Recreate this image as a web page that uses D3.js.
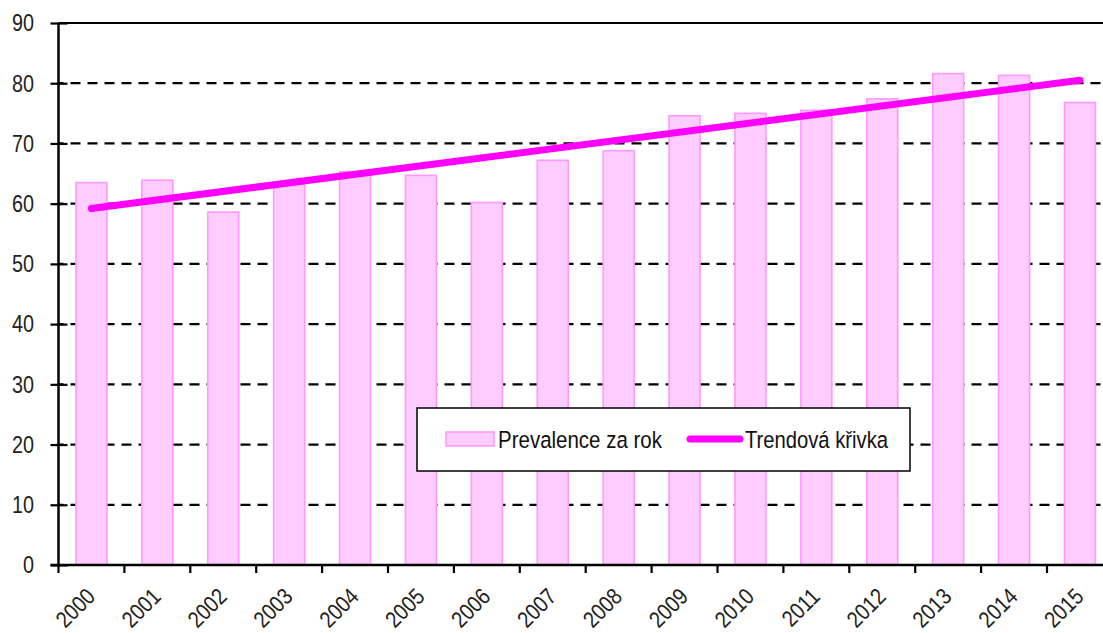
<!DOCTYPE html>
<html>
<head>
<meta charset="utf-8">
<script src="https://cdn.jsdelivr.net/npm/d3@7"></script>
<style>
    body { margin: 0; background: #fff; }
    svg { display: block; font-family: "Liberation Sans", Arial, sans-serif; }
</style>
</head>
<body>
<div id="chart"></div>
<script>
// data
const years = ["2000", "2001", "2002", "2003", "2004", "2005", "2006", "2007",
    "2008", "2009", "2010", "2011", "2012", "2013", "2014", "2015"];
const prevalence = [63.5, 63.9, 58.6, 63.3, 65.3, 64.7, 60.2, 67.2,
    68.8, 74.6, 75.0, 75.5, 77.4, 81.6, 81.3, 76.8];
// trend line end points (first and last year)
const trendYears = ["2000", "2015"];
const trendValues = [59.2, 80.5];
const yTicks = [0, 10, 20, 30, 40, 50, 60, 70, 80, 90];
const legendLabels = ["Prevalence za rok", "Trendová křivka"];

const WIDTH = 1103;
const HEIGHT = 633;
const margin = {top: 23, left: 58.5, bottom: 68};
// no narrow font installed, so squeeze the regular one
const NARROW = 0.86;

const svg = d3.select("#chart").append("svg")
    .attr("width", WIDTH)
    .attr("height", HEIGHT);

const x = d3.scaleBand()
    .domain(years)
    .range([margin.left, margin.left + years.length * 65.9])
    .padding(0);

const y = d3.scaleLinear()
    .domain([0, 90])
    .range([HEIGHT - margin.bottom, margin.top]);

const barW = x.bandwidth() * 0.47;

// grid
svg.append("g").attr("class", "grid")
    .selectAll("line")
    .data(yTicks.filter(d => d > 0))
    .enter().append("line")
    .attr("x1", margin.left)
    .attr("x2", WIDTH)
    .attr("y1", d => y(d))
    .attr("y2", d => y(d))
    .attr("stroke", "#000")
    .attr("stroke-width", 2.2)
    .attr("stroke-dasharray", d => d === 90 ? null : "10,7")
    .attr("stroke-dashoffset", -12);

// bars
svg.append("g").attr("class", "bars")
    .selectAll("rect")
    .data(years)
    .enter().append("rect")
    .attr("x", d => x(d) + (x.bandwidth() - barW) / 2)
    .attr("width", barW)
    .attr("y", (d, i) => y(prevalence[i]))
    .attr("height", (d, i) => y(0) - y(prevalence[i]))
    .attr("fill", "#ffccff")
    .attr("stroke", "#ff99ff")
    .attr("stroke-width", 1.6);

// trend
const line = d3.line()
    .x(d => x(d[0]) + x.bandwidth() / 2)
    .y(d => y(d[1]));

svg.append("path")
    .datum(trendYears.map((d, i) => [d, trendValues[i]]))
    .attr("d", line)
    .attr("fill", "none")
    .attr("stroke", "#ff00ff")
    .attr("stroke-width", 7)
    .attr("stroke-linecap", "round");

// y axis
const yAxis = d3.axisLeft(y)
    .tickValues(yTicks)
    .tickSize(8)
    .tickFormat("");

const yG = svg.append("g")
    .attr("transform", "translate(" + margin.left + ",0)")
    .call(yAxis);
yG.select(".domain").attr("stroke-width", 2.5).attr("d", "M0," + y(0) + "V" + y(90));
yG.selectAll(".tick line").attr("stroke-width", 2.2).attr("x2", -8).attr("x1", 9);
yG.selectAll(".tick text").remove();

svg.append("g").attr("class", "ylabels")
    .selectAll("text")
    .data(yTicks)
    .enter().append("text")
    .attr("transform", d => "translate(34," + y(d) + ") scale(" + NARROW + ",1)")
    .attr("dy", "0.36em")
    .attr("text-anchor", "end")
    .attr("font-size", 23)
    .attr("fill", "#222")
    .text(d => d);

// x axis
const xAxis = d3.axisBottom(x)
    .tickValues([])
    .tickSizeOuter(0);

const xG = svg.append("g")
    .attr("transform", "translate(0," + y(0) + ")")
    .call(xAxis);
xG.select(".domain").attr("stroke-width", 2.5).attr("d", "M" + (margin.left - 8) + ",0H" + WIDTH);

xG.selectAll(".xtick")
    .data(years)
    .enter().append("line")
    .attr("class", "xtick")
    .attr("x1", d => x(d))
    .attr("x2", d => x(d))
    .attr("y1", 0)
    .attr("y2", 8)
    .attr("stroke", "#000")
    .attr("stroke-width", 2.2);

xG.selectAll(".xlabel")
    .data(years)
    .enter().append("text")
    .attr("class", "xlabel")
    .attr("transform", d => "translate(" + (x(d) + x.bandwidth() / 2 + 5) + "," + 33 + ") rotate(-45) scale(" + NARROW + ",1)")
    .attr("text-anchor", "end")
    .attr("font-size", 23)
    .attr("fill", "#222")
    .text(d => d);

// legend
const legend = svg.append("g").attr("class", "legend");

legend.append("rect")
    .attr("x", 417).attr("y", 408)
    .attr("width", 493).attr("height", 63)
    .attr("fill", "#fff")
    .attr("stroke", "#000")
    .attr("stroke-width", 1.5);

legend.append("rect")
    .attr("x", 446).attr("y", 432)
    .attr("width", 48).attr("height", 14)
    .attr("fill", "#ffccff")
    .attr("stroke", "#ff99ff")
    .attr("stroke-width", 1.6);

legend.append("text")
    .attr("x", 498).attr("y", 448)
    .attr("font-size", 24.5)
    .attr("textLength", 164)
    .attr("lengthAdjust", "spacingAndGlyphs")
    .attr("fill", "#111")
    .text(legendLabels[0]);

legend.append("line")
    .attr("x1", 690).attr("x2", 740)
    .attr("y1", 439).attr("y2", 439)
    .attr("stroke", "#ff00ff")
    .attr("stroke-width", 7)
    .attr("stroke-linecap", "round");

legend.append("text")
    .attr("x", 745).attr("y", 448)
    .attr("font-size", 24.5)
    .attr("textLength", 143)
    .attr("lengthAdjust", "spacingAndGlyphs")
    .attr("fill", "#111")
    .text(legendLabels[1]);
</script>
</body>
</html>
